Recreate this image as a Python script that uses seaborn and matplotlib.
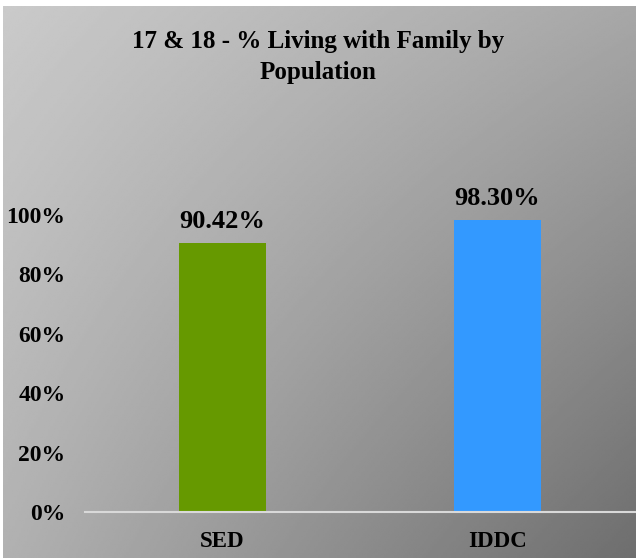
import numpy as np
import matplotlib.pyplot as plt
import seaborn as sns
import pandas as pd

categories = ['SED', 'IDDC']
values = [0.9042, 0.9830]
value_labels = ['90.42%', '98.30%']
bar_colors = ['#669900', '#3399FF']
yticks = [0, 0.2, 0.4, 0.6, 0.8, 1.0]
ytick_labels = ['0%', '20%', '40%', '60%', '80%', '100%']
title = '17 & 18 - % Living with Family by\nPopulation'

sns.set_style('white')
plt.rcParams['font.family'] = ['Liberation Serif', 'DejaVu Serif']
plt.rcParams['font.weight'] = 'bold'
plt.rcParams['text.color'] = 'black'
plt.rcParams['xtick.color'] = 'black'
plt.rcParams['ytick.color'] = 'black'

fig = plt.figure(figsize=(6.36, 5.58), dpi=100)
fig.patch.set_facecolor('white')

# gray diagonal gradient backdrop
bg = fig.add_axes([3 / 636, 0, 633 / 636, 552 / 558])
gx, gy = np.meshgrid(np.linspace(0, 1, 300), np.linspace(0, 1, 300))
grad = 202 - 35 * gx - 25 * gy - 32 * gx * gy
bg.imshow(grad, cmap='gray', vmin=0, vmax=255, aspect='auto',
          extent=[0, 1, 1, 0], interpolation='bilinear')
bg.axis('off')

ax = fig.add_axes([85 / 636, 46 / 558, 550 / 636, 297 / 558])
ax.patch.set_alpha(0)
df = pd.DataFrame({'cat': categories, 'val': values})
sns.barplot(data=df, x='cat', y='val', hue='cat', palette=bar_colors,
            width=0.317, legend=False, ax=ax, saturation=1, linewidth=0)

for i, (v, lab) in enumerate(zip(values, value_labels)):
    ax.text(i, v + 0.035, lab, ha='center', va='bottom', fontsize=19,
            fontweight='bold', color='black', clip_on=False)

ax.set_xlim(-0.5, 1.5)
ax.set_ylim(0, 1)
ax.set_yticks(yticks)
ax.set_yticklabels(ytick_labels, fontsize=17, fontweight='bold')
ax.tick_params(axis='y', length=0, pad=14)
ax.tick_params(axis='x', length=0, pad=14, labelsize=16.5)
for t in ax.get_xticklabels():
    t.set_fontweight('bold')
ax.set_xlabel('')
ax.set_ylabel('')
for s in ['top', 'right', 'left']:
    ax.spines[s].set_visible(False)
ax.spines['bottom'].set_color('#d9d9d9')
ax.spines['bottom'].set_linewidth(1.5)

fig.text(0.5, 1 - 57 / 558, title, ha='center', va='center', fontsize=18,
         fontweight='bold', linespacing=1.45, color='black')

fig.savefig('out.png', dpi=100)
